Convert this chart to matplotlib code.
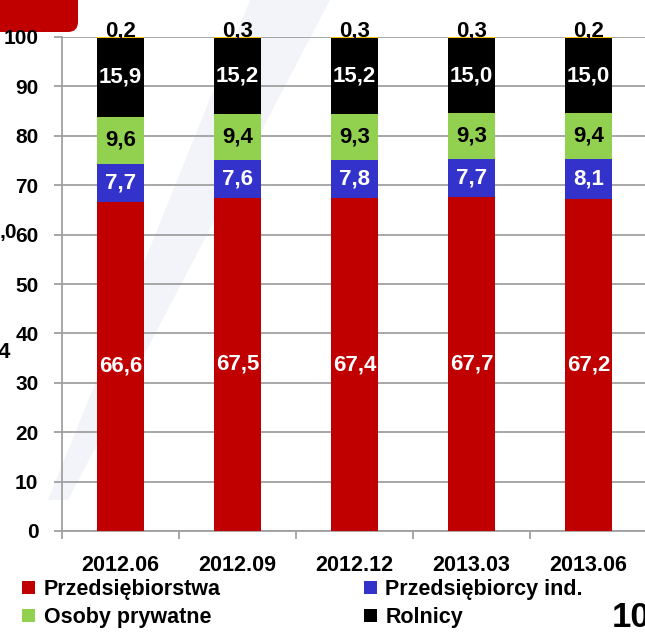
import numpy
import matplotlib
matplotlib.use("Agg")
import matplotlib.pyplot as plt
from matplotlib.patches import FancyBboxPatch, Polygon
from matplotlib.transforms import IdentityTransform

# Data
quarters = ["2012.06", "2012.09", "2012.12", "2013.03", "2013.06"]
przedsiebiorstwa = [66.6, 67.5, 67.4, 67.7, 67.2]
przedsiebiorcy_ind = [7.7, 7.6, 7.8, 7.7, 8.1]
osoby_prywatne = [9.6, 9.4, 9.3, 9.3, 9.4]
rolnicy = [15.9, 15.2, 15.2, 15.0, 15.0]
instytucje = [0.2, 0.3, 0.3, 0.3, 0.2]

series_names = ["Przedsiębiorstwa", "Przedsiębiorcy ind.", "Osoby prywatne",
                "Rolnicy", "Instytucje niekomercyjne"]
series_colors = ["#C00000", "#3333CC", "#92D050", "#000000", "#FFC000"]
label_colors = ["white", "white", "black", "white", "black"]

bold = {"family": ["Liberation Sans", "DejaVu Sans"], "weight": "bold"}

fig = plt.figure(figsize=(6.45, 6.34), dpi=100)

# faint diagonal watermark and red tab in the corner (pixel coords)
fig.add_artist(Polygon([(48, 634 - 500), (68, 634 - 500), (330, 634), (250, 634)],
                       closed=True, facecolor="#F2F4F9", edgecolor="none",
                       transform=IdentityTransform(), zorder=-2))
fig.add_artist(FancyBboxPatch((-20, 602), 98, 60, boxstyle="round,pad=0,rounding_size=10",
                              facecolor="#C00000", edgecolor="none",
                              transform=IdentityTransform(), zorder=-1))

ax = fig.add_axes([62 / 645, 1 - 531 / 634, 585 / 645, 494 / 634])
ax.set_facecolor("none")

x = numpy.arange(len(quarters))
all_series = [przedsiebiorstwa, przedsiebiorcy_ind, osoby_prywatne, rolnicy, instytucje]
bottom = numpy.zeros(len(quarters))
bars = []
for i, vals in enumerate(all_series):
    b = ax.bar(x, vals, 0.4, bottom=bottom, color=series_colors[i], edgecolor="none",
               label=series_names[i], zorder=3)
    bars.append(b)
    for xi, v, bt in zip(x, vals, bottom):
        txt = f"{v:.1f}".replace(".", ",")
        if i == 4:
            ax.text(xi, bt + v + 0.1, txt, ha="center", va="baseline", color="black",
                    fontsize=16, zorder=5, **bold)
        else:
            ax.text(xi, bt + v / 2, txt, ha="center", va="center", color=label_colors[i],
                    fontsize=16, zorder=5, **bold)
    bottom = bottom + numpy.array(vals)

ax.set_xlim(-0.5, 4.5)
ax.set_ylim(0, 100)
ax.set_yticks(range(0, 101, 10))
ax.yaxis.grid(True, color="#A0A0A0", linewidth=1.3, zorder=0)
ax.set_axisbelow(True)
for s in ["top", "right"]:
    ax.spines[s].set_visible(False)
for s in ["left", "bottom"]:
    ax.spines[s].set_color("#A0A0A0")
    ax.spines[s].set_linewidth(1.3)

ax.tick_params(axis="y", length=6, width=1.3, color="#A0A0A0", pad=11)
ax.set_xticks(x)
ax.set_xticklabels(quarters)
ax.set_xticks(numpy.arange(-0.5, 5, 1), minor=True)
ax.tick_params(axis="x", which="major", length=0, pad=17)
ax.tick_params(axis="x", which="minor", length=5.5, width=1.3, color="#A0A0A0")
for lab in ax.get_yticklabels():
    lab.set_fontsize(15)
    lab.set_fontfamily(bold["family"])
    lab.set_fontweight("bold")
for lab in ax.get_xticklabels():
    lab.set_fontsize(15.5)
    lab.set_fontfamily(bold["family"])
    lab.set_fontweight("bold")

order = [0, 2, 4, 1, 3]
fig.legend([bars[i] for i in order], [series_names[i] for i in order],
           loc="upper left", bbox_to_anchor=(22 / 645, 1 - 579 / 634), ncol=2,
           frameon=False, borderpad=0, borderaxespad=0, handlelength=0.6,
           handleheight=0.6, handletextpad=0.4, labelspacing=0.33, columnspacing=2.9,
           prop={"family": bold["family"], "weight": "bold", "size": 15.5})

# fragments of neighbouring slide content
fig.text(0, 1 - 233 / 634, ",0", ha="left", va="center", fontsize=15, **bold)
fig.text(-2 / 645, 1 - 352 / 634, "4", ha="left", va="center", fontsize=16, **bold)
fig.text(612 / 645, 0, "10", ha="left", va="bottom", fontsize=25, **bold)

fig.savefig("out.png", dpi=100)
